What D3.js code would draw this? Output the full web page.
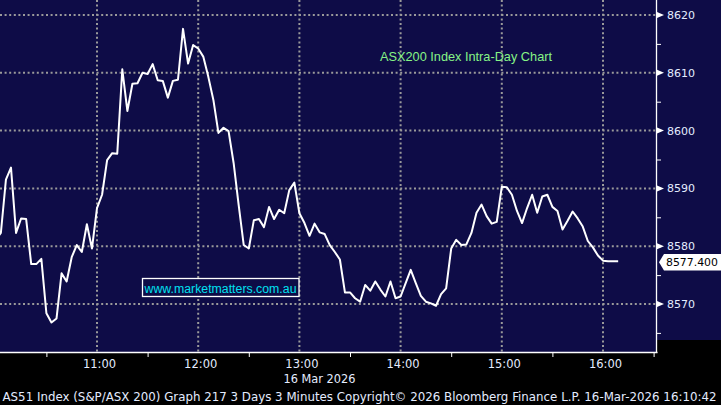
<!DOCTYPE html>
<html>
<head>
<meta charset="utf-8">
<script src="https://cdn.jsdelivr.net/npm/d3@7/dist/d3.min.js"></script>
<style>
  html, body { margin: 0; padding: 0; background: #000; }
  svg { display: block; }
</style>
</head>
<body>
<script>
// ---------- DATA ----------
const times = [
  "10:00","10:03","10:06","10:09","10:12","10:15","10:18","10:21","10:24","10:27",
  "10:30","10:33","10:36","10:39","10:42","10:45","10:48","10:51","10:54","10:57",
  "11:00","11:03","11:06","11:09","11:12","11:15","11:18","11:21","11:24","11:27",
  "11:30","11:33","11:36","11:39","11:42","11:45","11:48","11:51","11:54","11:57",
  "12:00","12:03","12:06","12:09","12:12","12:15","12:18","12:21","12:24","12:27",
  "12:30","12:33","12:36","12:39","12:42","12:45","12:48","12:51","12:54","12:57",
  "13:00","13:03","13:06","13:09","13:12","13:15","13:18","13:21","13:24","13:27",
  "13:30","13:33","13:36","13:39","13:42","13:45","13:48","13:51","13:54","13:57",
  "14:00","14:03","14:06","14:09","14:12","14:15","14:18","14:21","14:24","14:27",
  "14:30","14:33","14:36","14:39","14:42","14:45","14:48","14:51","14:54","14:57",
  "15:00","15:03","15:06","15:09","15:12","15:15","15:18","15:21","15:24","15:27",
  "15:30","15:33","15:36","15:39","15:42","15:45","15:48","15:51","15:54","15:57",
  "16:00","16:03","16:06","16:09"
];
const values = [
  8581.1, 8582.3, 8591.5, 8593.6, 8582.3, 8584.8, 8584.7, 8576.9, 8576.9, 8577.8,
  8568.4, 8566.8, 8567.5, 8575.3, 8573.9, 8578.1, 8580.2, 8579.0, 8583.8, 8579.6,
  8586.6, 8588.9, 8594.9, 8596.1, 8596.0, 8610.6, 8603.4, 8608.1, 8608.2, 8610.0,
  8609.8, 8611.5, 8608.7, 8608.6, 8605.7, 8608.6, 8608.8, 8617.6, 8611.6, 8614.8,
  8614.2, 8612.8, 8609.3, 8605.3, 8599.6, 8600.5, 8599.9, 8594.4, 8587.1, 8580.2,
  8579.6, 8584.5, 8584.7, 8583.3, 8586.8, 8584.7, 8586.3, 8585.7, 8589.7, 8591.0,
  8585.7, 8584.0, 8581.8, 8583.9, 8582.4, 8582.1, 8580.2, 8579.0, 8577.7, 8572.0,
  8572.0, 8571.0, 8570.4, 8573.3, 8572.3, 8573.9, 8572.5, 8571.3, 8573.9, 8571.0,
  8571.3, 8573.6, 8575.9, 8573.6, 8571.4, 8570.4, 8570.1, 8569.7, 8571.7, 8572.7,
  8579.6, 8581.1, 8580.2, 8580.3, 8582.3, 8585.8, 8587.2, 8585.2, 8583.9, 8584.2,
  8590.3, 8590.2, 8588.9, 8586.1, 8584.0, 8586.6, 8588.9, 8585.8, 8588.6, 8588.9,
  8586.8, 8586.1, 8582.9, 8584.4, 8586.0, 8584.8, 8583.4, 8580.9, 8579.8, 8578.4,
  8577.5, 8577.4, 8577.4, 8577.4
];
const yTicks = [8570, 8580, 8590, 8600, 8610, 8620];
const yMinorTicks = [8565, 8575, 8585, 8595, 8605, 8615];
const xTickLabels = ["11:00", "12:00", "13:00", "14:00", "15:00", "16:00"];
const xMinorLabels = ["10:30", "11:30", "12:30", "13:30", "14:30", "15:30", "16:30"];
const lastPrice = "8577.400";
const titleText = "ASX200 Index Intra-Day Chart";
const watermarkText = "www.marketmatters.com.au";
const dateText = "16 Mar 2026";
const footerText = "AS51 Index (S&P/ASX 200) Graph 217 3 Days 3 Minutes Copyright\u00A9 2026 Bloomberg Finance L.P.  16-Mar-2026 16:10:42";

// ---------- SETUP ----------
const W = 721, H = 405;
const plotW = 657, plotH = 353;
const navy = "#0e0c47";
const parseT = s => { const [h, m] = s.split(":").map(Number); return new Date(2026, 2, 16, h, m); };
const fmt = d3.timeFormat("%H:%M");
const data = times.map((t, i) => ({ t: parseT(t), v: values[i] }));

const x = d3.scaleTime().domain([parseT("10:00"), parseT("16:00")]).range([-4.2, 603]);
const y = d3.scaleLinear().domain([8570, 8620]).range([304, 15]);

const svg = d3.select("body").append("svg").attr("width", W).attr("height", H);
svg.append("rect").attr("width", W).attr("height", H).attr("fill", "#000");
svg.append("rect").attr("x", 0).attr("y", 0).attr("width", plotW).attr("height", plotH).attr("fill", navy);
svg.append("rect").attr("x", plotW).attr("y", 0).attr("width", W - plotW).attr("height", 340).attr("fill", navy);

svg.append("defs").append("clipPath").attr("id", "clip")
  .append("rect").attr("x", 0).attr("y", 0).attr("width", plotW).attr("height", plotH);

// gridlines
const grid = svg.append("g");
grid.selectAll("line.h").data(yTicks).join("line")
  .attr("x1", 0).attr("x2", plotW).attr("y1", d => y(d)).attr("y2", d => y(d))
  .attr("stroke", "#9a9a9a").attr("stroke-width", 2).attr("stroke-dasharray", "2,2.6");
grid.selectAll("line.v").data(xTickLabels.map(parseT)).join("line")
  .attr("x1", d => x(d)).attr("x2", d => x(d)).attr("y1", 0).attr("y2", plotH)
  .attr("stroke", "#9a9a9a").attr("stroke-width", 2).attr("stroke-dasharray", "2,2.6");

// title
svg.append("text").attr("x", 380).attr("y", 61)
  .attr("font-family", "'Liberation Sans', Arial, sans-serif").attr("font-size", 13)
  .attr("fill", "#86f486").attr("textLength", 172).attr("lengthAdjust", "spacingAndGlyphs")
  .text(titleText);

// watermark box
svg.append("rect").attr("x", 142.5).attr("y", 278.5).attr("width", 156.5).attr("height", 18)
  .attr("fill", navy).attr("stroke", "#fff").attr("stroke-width", 1.3);
svg.append("text").attr("x", 144.5).attr("y", 292.8)
  .attr("font-family", "'Liberation Sans', Arial, sans-serif").attr("font-size", 12.5)
  .attr("fill", "#00e0f0").attr("textLength", 152).attr("lengthAdjust", "spacingAndGlyphs")
  .text(watermarkText);

// line
const line = d3.line().x(d => x(d.t)).y(d => y(d.v));
svg.append("path").datum(data).attr("clip-path", "url(#clip)")
  .attr("d", line).attr("fill", "none").attr("stroke", "#fff")
  .attr("stroke-width", 2).attr("stroke-linejoin", "round");

// x axis
const xAxis = d3.axisBottom(x)
  .tickValues(xMinorLabels.concat(xTickLabels).map(parseT))
  .tickSize(4).tickPadding(3)
  .tickFormat(d => d.getMinutes() === 0 ? fmt(d) : "");
const gx = svg.append("g").attr("transform", `translate(0,${plotH})`).call(xAxis);
gx.select(".domain").remove();
gx.selectAll(".tick line").attr("stroke", "#fff")
  .attr("opacity", d => d.getMinutes() === 0 ? 0 : 1);
gx.selectAll(".tick text").attr("fill", "#e4ecff")
  .attr("font-family", "'DejaVu Sans', sans-serif").attr("font-size", 11.5).attr("dx", 2);
svg.append("line").attr("x1", 0).attr("x2", plotW + 0.5).attr("y1", plotH - 0.5).attr("y2", plotH - 0.5)
  .attr("stroke", "#fff").attr("stroke-width", 1.3);

// y axis (right)
const yAxis = d3.axisRight(y).tickValues(yTicks.concat(yMinorTicks))
  .tickSize(4).tickPadding(6)
  .tickFormat(d => yTicks.includes(d) ? d3.format("d")(d) : "");
const gy = svg.append("g").attr("transform", `translate(${plotW},0)`).call(yAxis);
gy.select(".domain").remove();
gy.selectAll(".tick line").attr("stroke", "#fff");
gy.selectAll(".tick text").attr("fill", "#e4ecff")
  .attr("font-family", "'DejaVu Sans', sans-serif").attr("font-size", 11);
svg.append("line").attr("x1", plotW - 0.5).attr("x2", plotW - 0.5).attr("y1", 0).attr("y2", plotH)
  .attr("stroke", "#fff").attr("stroke-width", 1.3);
// triangle markers at major ticks
svg.append("g").selectAll("path").data(yTicks).join("path")
  .attr("d", d => `M${plotW},${y(d) - 3}L${plotW + 7},${y(d)}L${plotW},${y(d) + 3}Z`)
  .attr("fill", "#fff");

// last price tag
const ly = y(values[values.length - 1]) + 1;
svg.append("path")
  .attr("d", `M${plotW + 2},${ly}L${plotW + 7},${ly - 8.3}L${W},${ly - 8.3}L${W},${ly + 8.3}L${plotW + 7},${ly + 8.3}Z`)
  .attr("fill", "#fff");
svg.append("text").attr("x", plotW + 9).attr("y", ly + 4)
  .attr("font-family", "'DejaVu Sans', sans-serif").attr("font-size", 11)
  .attr("fill", "#000").attr("textLength", 52).attr("lengthAdjust", "spacingAndGlyphs")
  .text(lastPrice);

// date label
svg.append("text").attr("x", 283.5).attr("y", 383)
  .attr("font-family", "'DejaVu Sans', sans-serif").attr("font-size", 11.5)
  .attr("fill", "#e4ecff").attr("textLength", 72).attr("lengthAdjust", "spacingAndGlyphs")
  .text(dateText);

// footer
svg.append("text").attr("x", 2.5).attr("y", 401)
  .attr("font-family", "'DejaVu Sans', sans-serif").attr("font-size", 11.5)
  .attr("fill", "#e4ecff").attr("textLength", 714).attr("lengthAdjust", "spacingAndGlyphs")
  .text(footerText);
</script>
</body>
</html>
